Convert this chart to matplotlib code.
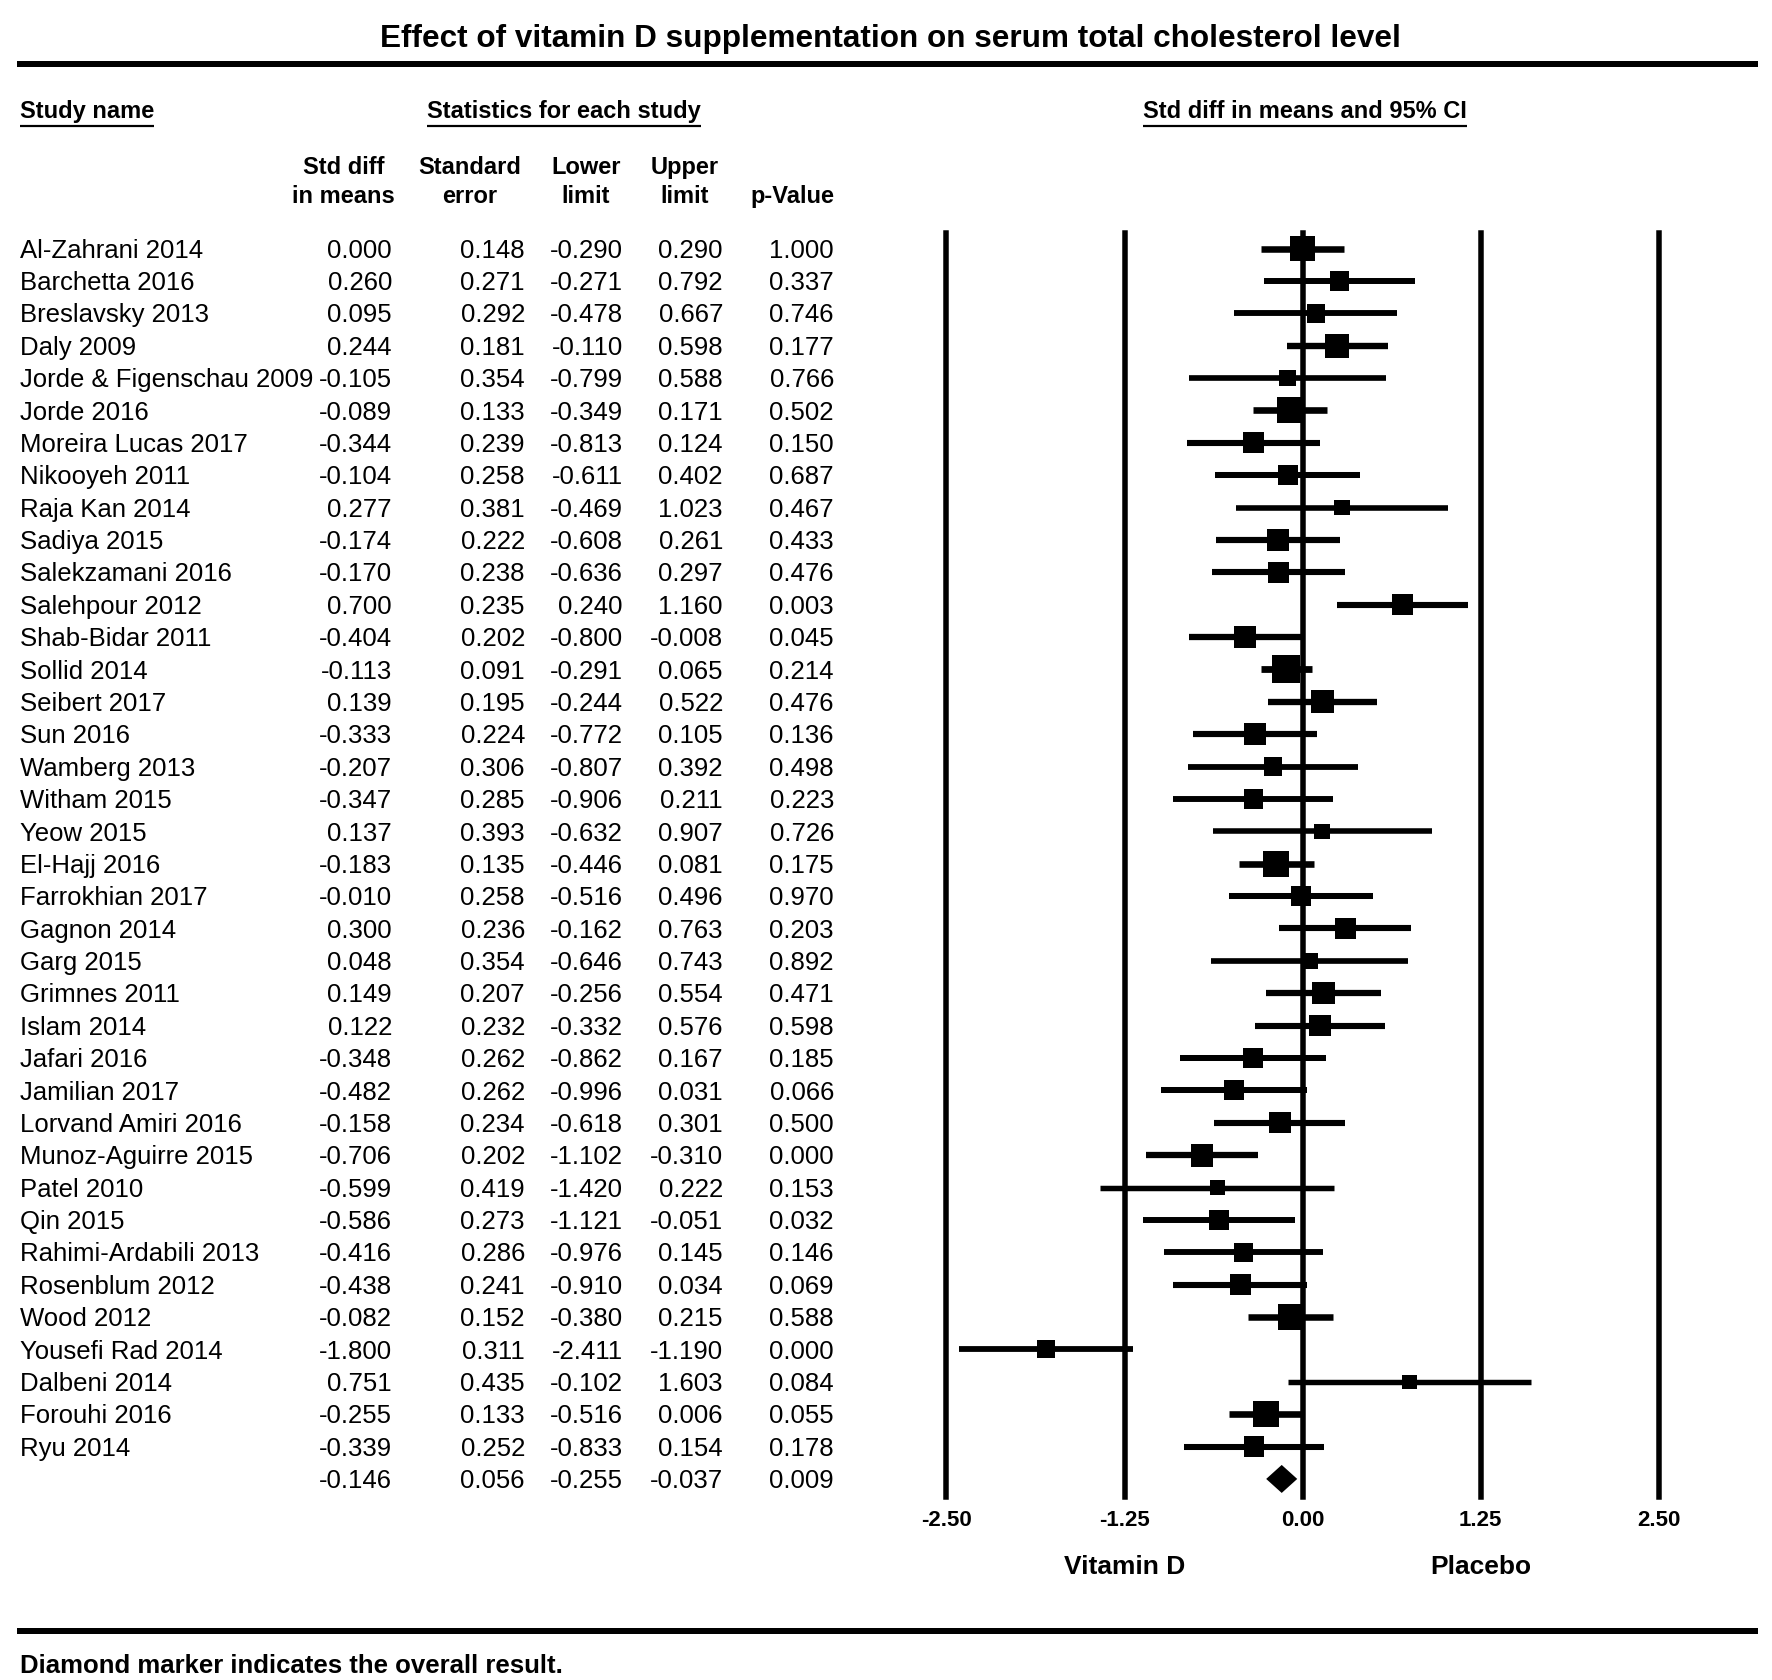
import numpy as np
import matplotlib
matplotlib.use("Agg")
import matplotlib.pyplot as plt
from matplotlib import transforms

plt.rcParams['font.family'] = ['Liberation Sans', 'DejaVu Sans']

studies = ["Al-Zahrani 2014", "Barchetta 2016", "Breslavsky 2013", "Daly 2009",
           "Jorde & Figenschau 2009", "Jorde 2016", "Moreira Lucas 2017", "Nikooyeh 2011",
           "Raja Kan 2014", "Sadiya 2015", "Salekzamani 2016", "Salehpour 2012",
           "Shab-Bidar 2011", "Sollid 2014", "Seibert 2017", "Sun 2016", "Wamberg 2013",
           "Witham 2015", "Yeow 2015", "El-Hajj 2016", "Farrokhian 2017", "Gagnon 2014",
           "Garg 2015", "Grimnes 2011", "Islam 2014", "Jafari 2016", "Jamilian 2017",
           "Lorvand Amiri 2016", "Munoz-Aguirre 2015", "Patel 2010", "Qin 2015",
           "Rahimi-Ardabili 2013", "Rosenblum 2012", "Wood 2012", "Yousefi Rad 2014",
           "Dalbeni 2014", "Forouhi 2016", "Ryu 2014"]
smd = [0.000, 0.260, 0.095, 0.244, -0.105, -0.089, -0.344, -0.104, 0.277, -0.174,
       -0.170, 0.700, -0.404, -0.113, 0.139, -0.333, -0.207, -0.347, 0.137, -0.183,
       -0.010, 0.300, 0.048, 0.149, 0.122, -0.348, -0.482, -0.158, -0.706, -0.599,
       -0.586, -0.416, -0.438, -0.082, -1.800, 0.751, -0.255, -0.339]
se = [0.148, 0.271, 0.292, 0.181, 0.354, 0.133, 0.239, 0.258, 0.381, 0.222,
      0.238, 0.235, 0.202, 0.091, 0.195, 0.224, 0.306, 0.285, 0.393, 0.135,
      0.258, 0.236, 0.354, 0.207, 0.232, 0.262, 0.262, 0.234, 0.202, 0.419,
      0.273, 0.286, 0.241, 0.152, 0.311, 0.435, 0.133, 0.252]
lower = [-0.290, -0.271, -0.478, -0.110, -0.799, -0.349, -0.813, -0.611, -0.469, -0.608,
         -0.636, 0.240, -0.800, -0.291, -0.244, -0.772, -0.807, -0.906, -0.632, -0.446,
         -0.516, -0.162, -0.646, -0.256, -0.332, -0.862, -0.996, -0.618, -1.102, -1.420,
         -1.121, -0.976, -0.910, -0.380, -2.411, -0.102, -0.516, -0.833]
upper = [0.290, 0.792, 0.667, 0.598, 0.588, 0.171, 0.124, 0.402, 1.023, 0.261,
         0.297, 1.160, -0.008, 0.065, 0.522, 0.105, 0.392, 0.211, 0.907, 0.081,
         0.496, 0.763, 0.743, 0.554, 0.576, 0.167, 0.031, 0.301, -0.310, 0.222,
         -0.051, 0.145, 0.034, 0.215, -1.190, 1.603, 0.006, 0.154]
pval = [1.000, 0.337, 0.746, 0.177, 0.766, 0.502, 0.150, 0.687, 0.467, 0.433,
        0.476, 0.003, 0.045, 0.214, 0.476, 0.136, 0.498, 0.223, 0.726, 0.175,
        0.970, 0.203, 0.892, 0.471, 0.598, 0.185, 0.066, 0.500, 0.000, 0.153,
        0.032, 0.146, 0.069, 0.588, 0.000, 0.084, 0.055, 0.178]
# overall (random effects) result
overall = [-0.146, 0.056, -0.255, -0.037, 0.009]
tau2 = 0.056   # between-study variance, guessed from box sizes

xticks = [-2.50, -1.25, 0.00, 1.25, 2.50]
col_heads = [("Std diff", "in means"), ("Standard", "error"), ("Lower", "limit"),
             ("Upper", "limit"), ("", "p-Value")]

W, H = 1772, 1680
fig = plt.figure(figsize=(W / 100, H / 100), dpi=100)
bg = fig.add_axes([0, 0, 1, 1])
bg.set_xlim(0, W)
bg.set_ylim(H, 0)
bg.axis('off')

# forest panel placement (pixels)
px0, px1 = 946.5, 1658.5
py0, py1 = 233, 1497
row0, rowh = 248.5, 32.38
fx = fig.add_axes([px0 / W, 1 - py1 / H, (px1 - px0) / W, (py1 - py0) / H])
fx.set_xlim(-2.5, 2.5)
fx.set_ylim((py1 - row0) / rowh, (py0 - row0) / rowh)
for s in fx.spines.values():
    s.set_visible(False)
fx.set_yticks([])
fx.set_xticks(xticks)
fx.set_xticklabels([f"{t:.2f}" for t in xticks], fontweight='bold', fontsize=16)
fx.tick_params(axis='x', length=0, pad=9.5)
fx.patch.set_alpha(0)

px2pt = 0.72
for t in xticks:
    fx.axvline(t, color='k', lw=5.5 * px2pt, clip_on=False, zorder=1)

n = len(studies)
idx = np.arange(n)
se_a = np.array(se)
side = 7.08 / np.sqrt(se_a ** 2 + tau2)          # box side in px
fx.hlines(idx, lower, upper, colors='k', linewidths=(4 + 0.1 * side) * px2pt, zorder=2)
fx.scatter(smd, idx, marker='s', s=(side * px2pt) ** 2, c='k', linewidths=0, zorder=3)

# overall diamond
yd = n
hd = 14 / rowh
fx.fill([overall[2], overall[0], overall[3], overall[0]],
        [yd, yd - hd, yd, yd + hd], color='k', lw=0, zorder=3)

# text table (baseline shifted so the digits sit centred on each row)
trans = transforms.blended_transform_factory(bg.transData, fx.transData)
fs = 18.5
base = 0.716 * fs / 0.72 / 2 / rowh
col_right = [392, 525, 623, 723, 834]
col_mid = [343.5, 470, 586, 685, 792]
for i in range(n):
    bg.text(20, i + base, studies[i], transform=trans, ha='left', va='baseline', fontsize=fs)
    vals = [smd[i], se[i], lower[i], upper[i], pval[i]]
    for x, v in zip(col_right, vals):
        bg.text(x, i + base, f"{v:.3f}", transform=trans, ha='right', va='baseline',
                fontsize=fs)
for x, v in zip(col_right, overall):
    bg.text(x, n + base, f"{v:.3f}", transform=trans, ha='right', va='baseline', fontsize=fs)

for x, (a, b) in zip(col_mid, col_heads):
    bg.text(x, 167.5, a, ha='center', va='center', fontsize=17, fontweight='bold')
    bg.text(x, 196.5, b, ha='center', va='center', fontsize=17, fontweight='bold')

bg.text(890, 39.5, "Effect of vitamin D supplementation on serum total cholesterol level",
        ha='center', va='center', fontsize=22.7, fontweight='bold')
heads = [bg.text(20, 111.5, "Study name", ha='left', va='center', fontsize=17,
                 fontweight='bold'),
         bg.text(564, 111.5, "Statistics for each study", ha='center', va='center',
                 fontsize=17, fontweight='bold'),
         bg.text(1305, 111.5, "Std diff in means and 95% CI", ha='center', va='center',
                 fontsize=17, fontweight='bold')]

for y in (63.5, 1631):
    bg.plot([17, 1758], [y, y], color='k', lw=6 * px2pt, solid_capstyle='butt')

fx_lab = transforms.blended_transform_factory(fx.transData, bg.transData)
bg.text(-1.25, 1567, "Vitamin D", transform=fx_lab, ha='center', va='center',
        fontsize=19, fontweight='bold')
bg.text(1.25, 1567, "Placebo", transform=fx_lab, ha='center', va='center',
        fontsize=19, fontweight='bold')
bg.text(20, 1666, "Diamond marker indicates the overall result.", ha='left', va='center',
        fontsize=18.5, fontweight='bold')

# underline the section headings
fig.canvas.draw()
r = fig.canvas.get_renderer()
for t in heads:
    bb = t.get_window_extent(r)
    bg.plot([bb.x0, bb.x1], [125.5, 125.5], color='k', lw=2.2 * px2pt,
            solid_capstyle='butt')

fig.savefig("out.png", dpi=100)
